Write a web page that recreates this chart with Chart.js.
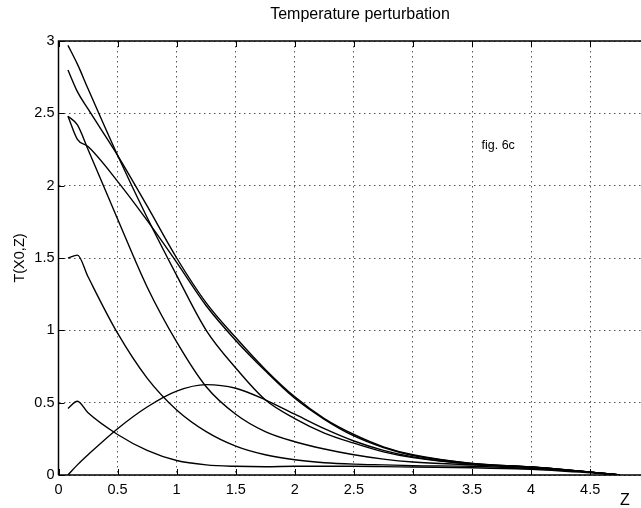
<!DOCTYPE html>
<html>
<head>
<meta charset="utf-8">
<title>Temperature perturbation</title>
<script src="https://cdn.jsdelivr.net/npm/chart.js@4.4.1/dist/chart.umd.min.js"></script>
<style>
    html, body { margin: 0; padding: 0; background: #fff; }
    #chart { display: block; }
</style>
</head>
<body>
<canvas id="chart" width="641" height="508"></canvas>
<script>
// Données (fig. 6c)

const zValues = [0.08, 0.16, 0.25, 0.5, 0.75, 1, 1.25, 1.5, 1.75, 2, 2.25, 2.5, 2.75, 3, 3.5, 4, 4.5, 4.75];

// Une courbe par profil T(X0,Z)
const curveA = [2.97, 2.84, 2.67, 2.21, 1.78, 1.38, 1.00, 0.74, 0.52, 0.39, 0.29, 0.22, 0.16, 0.12, 0.075, 0.055, 0.02, 0];
const curveB = [2.80, 2.65, 2.53, 2.21, 1.86, 1.50, 1.19, 0.95, 0.73, 0.54, 0.39, 0.28, 0.195, 0.14, 0.08, 0.055, 0.02, 0];
const curveC = [2.48, 2.42, 2.25, 1.77, 1.30, 0.92, 0.61, 0.42, 0.30, 0.23, 0.18, 0.14, 0.11, 0.09, 0.07, 0.05, 0.02, 0];
const curveD = [2.48, 2.32, 2.27, 2.03, 1.76, 1.47, 1.17, 0.93, 0.72, 0.53, 0.385, 0.27, 0.19, 0.135, 0.08, 0.055, 0.02, 0];
const curveE = [1.50, 1.52, 1.37, 0.98, 0.67, 0.45, 0.30, 0.20, 0.14, 0.105, 0.085, 0.075, 0.07, 0.065, 0.06, 0.045, 0.02, 0];
const curveF = [0.46, 0.51, 0.43, 0.28, 0.17, 0.10, 0.07, 0.06, 0.057, 0.06, 0.06, 0.06, 0.058, 0.055, 0.05, 0.04, 0.015, 0];
const curveG = [0.0, 0.07, 0.14, 0.32, 0.47, 0.58, 0.625, 0.60, 0.52, 0.42, 0.32, 0.235, 0.17, 0.125, 0.075, 0.055, 0.02, 0];

const allCurves = [curveA, curveB, curveC, curveD, curveE, curveF, curveG];

// Graduations
const xTicks = [0, 0.5, 1, 1.5, 2, 2.5, 3, 3.5, 4, 4.5];
const yTicks = [0, 0.5, 1, 1.5, 2, 2.5, 3];

// Textes
const titleText = 'Temperature perturbation';
const yLabel = 'T(X0,Z)';
const xLabel = 'Z';
const noteText = 'fig. 6c';
const notePos = { z: 3.58, t: 2.28 };

const fontFamily = '"Liberation Sans", Arial, Helvetica, sans-serif';

// Titre, cadre, petites graduations intérieures, étiquette Z et annotation
const framePlugin = {
    id: 'frame',
    afterDraw(chart) {
        const { ctx, chartArea: a, scales } = chart;
        const x = scales.x;
        const y = scales.y;
        ctx.save();
        ctx.strokeStyle = '#000';
        ctx.lineWidth = 1.5;
        ctx.beginPath();
        ctx.moveTo(a.left, a.bottom);
        ctx.lineTo(a.left, a.top);
        ctx.lineTo(a.right, a.top);
        ctx.moveTo(a.left, a.bottom);
        ctx.lineTo(a.right, a.bottom);
        ctx.stroke();

        ctx.lineWidth = 1;
        ctx.beginPath();
        xTicks.forEach(v => {
            const px = Math.round(x.getPixelForValue(v)) + 0.5;
            ctx.moveTo(px, a.bottom);
            ctx.lineTo(px, a.bottom - 6);
            ctx.moveTo(px, a.top);
            ctx.lineTo(px, a.top + 6);
        });
        yTicks.forEach(v => {
            const py = Math.round(y.getPixelForValue(v)) + 0.5;
            ctx.moveTo(a.left, py);
            ctx.lineTo(a.left + 6, py);
        });
        ctx.stroke();

        ctx.fillStyle = '#000';
        ctx.textAlign = 'center';
        ctx.textBaseline = 'middle';
        ctx.font = '16px ' + fontFamily;
        ctx.fillText(titleText, 360, 15);
        ctx.fillText(xLabel, 625, 501);

        ctx.font = '12.5px ' + fontFamily;
        ctx.textAlign = 'left';
        ctx.fillText(noteText, x.getPixelForValue(notePos.z), y.getPixelForValue(notePos.t));
        ctx.restore();
    }
};

function drawChart() {
    console.log('Création du graphique...');
    try {
        const ctx = document.getElementById('chart').getContext('2d');

        const datasets = allCurves.map(values => ({
            data: zValues.map((z, i) => ({ x: z, y: values[i] })),
            borderColor: '#000',
            borderWidth: 1.4,
            pointRadius: 0,
            fill: false,
            cubicInterpolationMode: 'monotone'
        }));

        const gridOpts = {
            color: '#555',
            lineWidth: 1,
            drawTicks: false
        };

        const tickFont = { family: fontFamily, size: 14.5 };

        new Chart(ctx, {
            type: 'line',
            data: { datasets: datasets },
            plugins: [framePlugin],
            options: {
                responsive: false,
                animation: false,
                devicePixelRatio: 1,
                layout: { padding: { top: 41, right: 0, bottom: 0, left: 0 } },
                scales: {
                    x: {
                        type: 'linear',
                        min: 0,
                        max: 4.93,
                        grid: gridOpts,
                        border: { display: false, dash: [1.5, 3.5] },
                        ticks: {
                            color: '#000',
                            padding: 6,
                            maxRotation: 0,
                            font: tickFont,
                            callback: v => String(v)
                        },
                        afterBuildTicks: s => { s.ticks = xTicks.map(v => ({ value: v })); },
                        afterFit: s => { s.height = 33; }
                    },
                    y: {
                        type: 'linear',
                        min: 0,
                        max: 3,
                        grid: gridOpts,
                        border: { display: false, dash: [1.5, 3.5] },
                        ticks: {
                            color: '#000',
                            padding: 4,
                            font: tickFont,
                            callback: v => String(v)
                        },
                        title: {
                            display: true,
                            text: yLabel,
                            color: '#000',
                            padding: { top: 11, bottom: 0 },
                            font: { family: fontFamily, size: 14.5 }
                        },
                        afterBuildTicks: s => { s.ticks = yTicks.map(v => ({ value: v })); },
                        afterFit: s => { s.width = 58.5; }
                    }
                },
                plugins: {
                    legend: { display: false },
                    tooltip: { enabled: false },
                    title: { display: false }
                }
            }
        });
        console.log('Graphique créé');
    } catch (error) {
        console.error('Erreur lors de la création du graphique:', error);
    }
}

drawChart();
</script>
</body>
</html>
